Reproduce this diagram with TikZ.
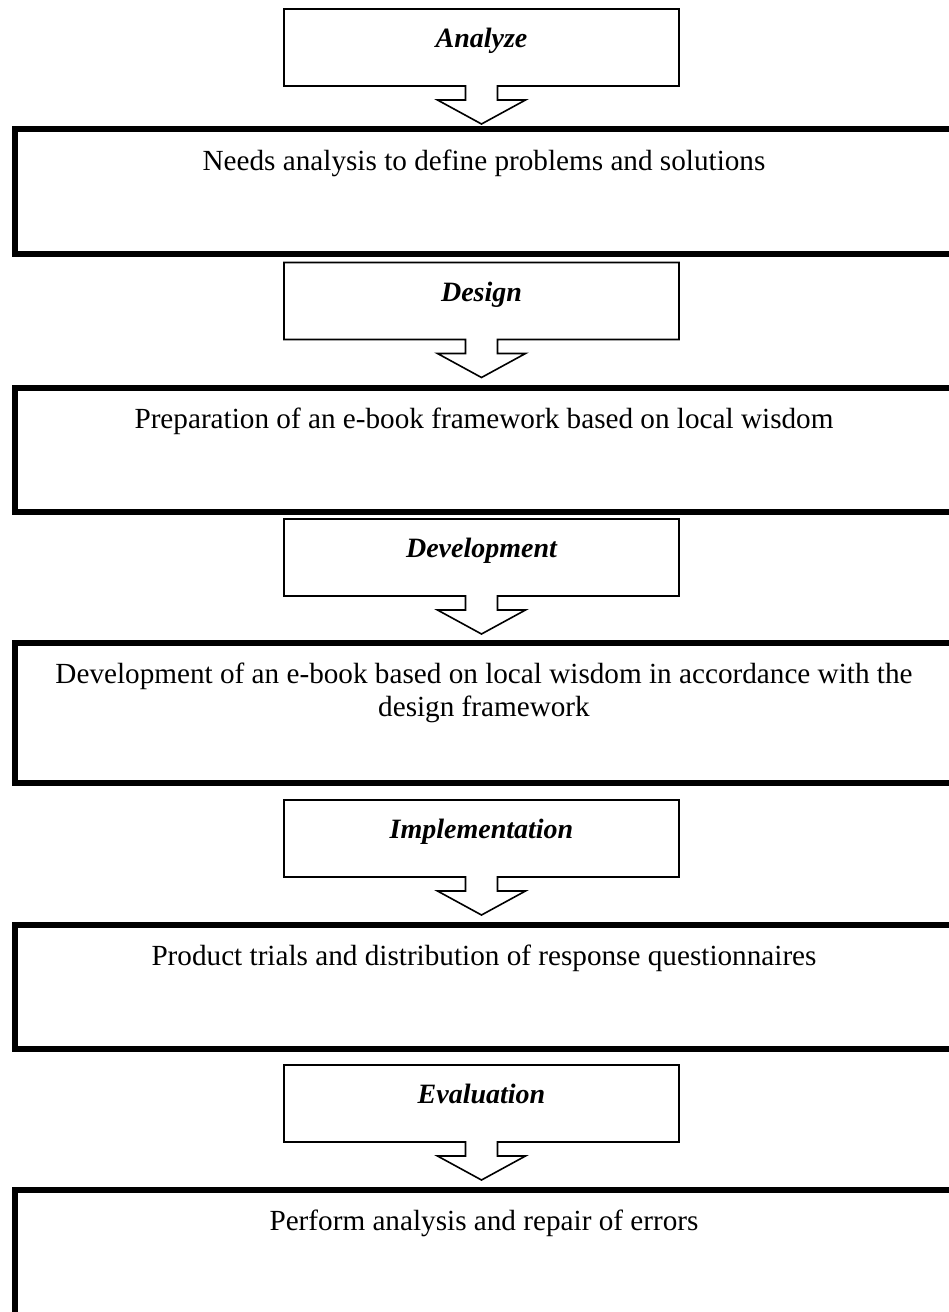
\documentclass[tikz,border=0pt]{standalone}
\usepackage{fontspec}
\setmainfont{Liberation Serif}
\newcommand{\callout}[1]{\draw[thinline] (#1.north west) -- (#1.north east) -- (#1.south east) -- ++(-181.5,0) -- ++(0,14) -- ++(28,0) -- ++(-44,24) -- ++(-44,-24) -- ++(28,0) -- ++(0,-14) -- (#1.south west) -- cycle;}
\begin{document}
\begin{tikzpicture}[
x=0.5pt, y=-0.5pt,
font=\fontsize{14.6}{16.5}\selectfont,
phase/.style={minimum width=197.5pt, minimum height=38.5pt, inner sep=0pt, outer sep=0pt, text height=8pt, text depth=8pt, font=\fontsize{14}{16.5}\selectfont\bfseries\itshape},
steptext/.style={anchor=base, align=center, inner sep=0pt},
thinline/.style={draw=black, line width=0.8pt, line join=miter},
frame/.style={draw=black, line width=3.2pt, line join=miter},
]
\useasboundingbox (0,0) rectangle (948,1312);
\fill[white] (0,0) rectangle (948,1312);

\node[phase] (analyze) at (481.5,47.5) {Analyze};
\node[phase] (design) at (481.5,301) {Design};
\node[phase] (develop) at (481.5,557.5) {Development};
\node[phase] (implement) at (481.5,838.5) {Implementation};
\node[phase] (evaluate) at (481.5,1103.5) {Evaluation};

\callout{analyze}
\callout{design}
\callout{develop}
\callout{implement}
\callout{evaluate}

\draw[frame] (15,129) rectangle (960,254);
\draw[frame] (15,388) rectangle (960,512);
\draw[frame] (15,643) rectangle (960,783);
\draw[frame] (15,925) rectangle (960,1049);
\draw[frame] (15,1190) rectangle (960,1340);

\node[steptext] (needs) at (484,170) {Needs analysis to define problems and solutions};
\node[steptext] (prepare) at (484,428) {Preparation of an e-book framework based on local wisdom};
\node[steptext] (build) at (484,716) {Development of an e-book based on local wisdom in accordance with the\\design framework};
\node[steptext] (trial) at (484,965) {Product trials and distribution of response questionnaires};
\node[steptext] (repair) at (484,1230) {Perform analysis and repair of errors};

\end{tikzpicture}
\end{document}
